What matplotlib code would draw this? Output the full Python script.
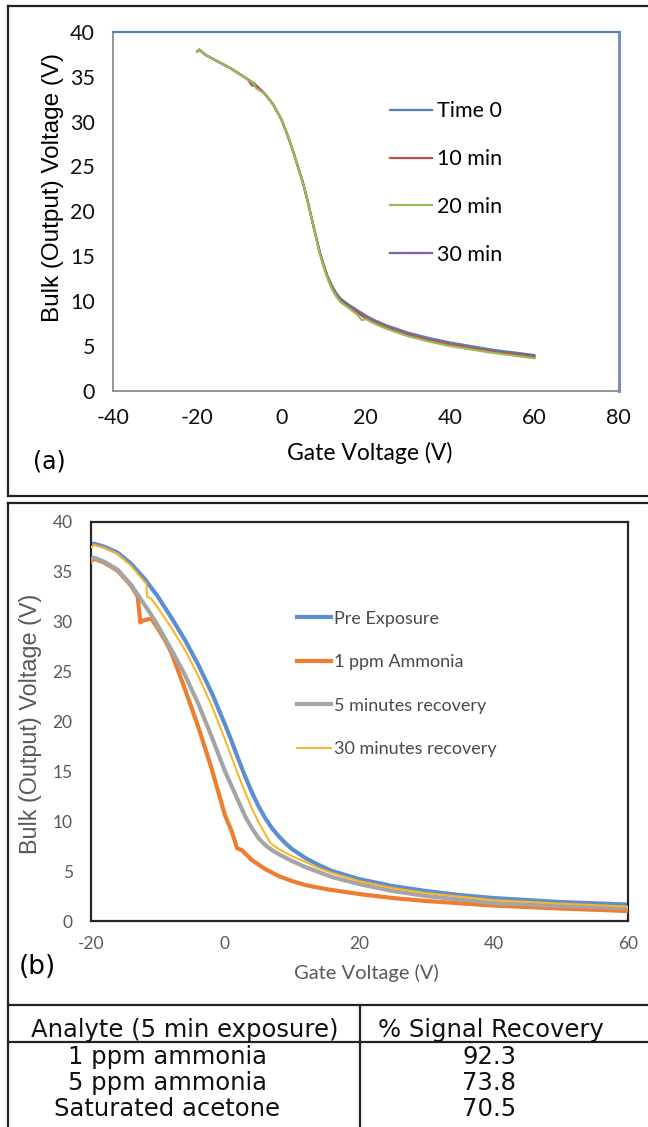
import matplotlib.pyplot as plt
from matplotlib.lines import Line2D

plt.rcParams["axes.unicode_minus"] = False

# (a) output voltage vs gate voltage, repeated sweeps
gate_a = [-20, -19.5, -18, -16, -14, -12, -10, -8, -7, -6, -4, -2, 0, 1, 2, 3, 4, 5, 6, 7,
          8, 9, 10, 11, 12, 13, 14, 16, 18, 19, 20, 22, 25, 30, 35, 40, 50, 60]
time0 = [37.8, 38.0, 37.4, 36.9, 36.4, 35.9, 35.3, 34.7, 34.4, 34.0, 33.1, 31.9, 30.2, 29.0, 27.7, 26.3, 24.8, 23.3, 21.5, 19.5,
         17.5, 15.6, 14.0, 12.7, 11.7, 10.9, 10.3, 9.6, 9.0, 8.7, 8.4, 7.9, 7.3, 6.5, 5.9, 5.4, 4.6, 4.0]
min10 = [37.8, 38.0, 37.4, 36.9, 36.4, 35.9, 35.3, 34.7, 34.0, 34.0, 33.1, 31.9, 30.2, 29.0, 27.7, 26.3, 24.8, 23.3, 21.5, 19.5,
         17.5, 15.6, 14.0, 12.6, 11.5, 10.7, 10.1, 9.4, 8.8, 8.5, 8.2, 7.7, 7.1, 6.3, 5.7, 5.2, 4.4, 3.85]
min20 = [37.8, 38.0, 37.4, 36.9, 36.4, 35.9, 35.3, 34.7, 34.4, 33.7, 33.1, 31.9, 30.2, 29.0, 27.7, 26.3, 24.8, 23.3, 21.5, 19.5,
         17.4, 15.4, 13.8, 12.4, 11.3, 10.5, 9.9, 9.2, 8.5, 7.9, 8.0, 7.5, 6.9, 6.1, 5.5, 5.0, 4.25, 3.65]
min30 = [37.8, 38.0, 37.4, 36.9, 36.4, 35.9, 35.3, 34.7, 34.4, 34.0, 33.1, 31.9, 30.2, 29.0, 27.7, 26.3, 24.8, 23.3, 21.5, 19.5,
         17.5, 15.5, 13.9, 12.5, 11.4, 10.6, 10.0, 9.3, 8.7, 8.4, 8.1, 7.6, 7.0, 6.2, 5.6, 5.1, 4.35, 3.75]

# (b) ammonia exposure and recovery
pre_x = [-20, -19.5, -18, -16, -14, -12, -10, -8, -6, -4, -2, 0, 1, 2, 3, 4, 5, 6, 7, 8, 9, 10,
         12, 14, 16, 18, 20, 25, 30, 35, 40, 50, 60]
pre_y = [37.6, 37.8, 37.5, 36.9, 35.8, 34.3, 32.5, 30.4, 28.2, 25.7, 22.9, 19.7, 18.0, 16.2, 14.5, 12.9, 11.5, 10.3, 9.3, 8.5, 7.8, 7.2,
         6.3, 5.6, 5.0, 4.6, 4.2, 3.5, 3.0, 2.6, 2.3, 1.9, 1.65]
nh3_x = [-20, -19.5, -18, -16, -14, -13, -12.8, -12.6, -12.2, -11, -10, -9, -8, -6, -4, -2, 0, 1, 1.8, 2.5,
         4, 6, 8, 10, 12, 15, 20, 25, 30, 40, 50, 60]
nh3_y = [36.0, 36.3, 35.9, 35.1, 33.6, 32.5, 31.2, 29.9, 30.1, 30.3, 29.3, 28.2, 26.9, 23.3, 19.5, 15.3, 10.6, 9.0, 7.3, 7.1,
         6.1, 5.2, 4.5, 4.0, 3.6, 3.2, 2.7, 2.3, 2.0, 1.55, 1.25, 1.0]
rec5_x = [-20, -19.5, -18, -16, -14, -12, -11, -10, -8, -6, -4, -2, 0, 1, 2, 3, 4, 5, 6, 7, 8,
          10, 12, 14, 16, 20, 25, 30, 40, 50, 60]
rec5_y = [36.2, 36.4, 36.0, 35.2, 33.7, 31.7, 30.7, 29.6, 27.2, 24.7, 21.8, 18.5, 15.0, 13.5, 12.0, 10.5, 9.3, 8.3, 7.6, 7.1, 6.7,
          6.0, 5.4, 4.9, 4.4, 3.7, 3.0, 2.5, 1.8, 1.5, 1.3]
rec30_x = [-20, -19.5, -18, -16, -14, -12, -11.7, -11.6, -11, -10, -8, -6, -4, -2, 0, 1, 2, 3, 4, 5, 6, 6.8, 7.2, 8,
           10, 12, 14, 16, 20, 25, 30, 40, 50, 60]
rec30_y = [37.4, 37.7, 37.4, 36.8, 35.6, 34.0, 33.8, 32.5, 32.3, 31.4, 29.4, 27.2, 24.6, 21.6, 18.2, 16.4, 14.6, 12.9, 11.3, 9.9, 8.7, 7.8, 7.6, 7.2,
           6.5, 5.9, 5.3, 4.8, 4.0, 3.3, 2.8, 2.1, 1.75, 1.45]

# recovery table
analytes = ["1 ppm ammonia", "5 ppm ammonia", "Saturated acetone"]
recovery = ["92.3", "73.8", "70.5"]

W, H = 648, 1127
fig = plt.figure(figsize=(W / 100, H / 100), dpi=100)
fig.patch.set_facecolor("white")


def rule(x0, y0, x1, y1, lw=1.6):
    fig.add_artist(Line2D([x0 / W, x1 / W], [1 - y0 / H, 1 - y1 / H],
                          transform=fig.transFigure, color="#222222", lw=lw))


def place(left, top, right, bottom):
    return fig.add_axes([left / W, 1 - bottom / H, (right - left) / W, (bottom - top) / H])


# ---- panel (a) ----
ax = place(113, 31.7, 618.7, 391)
ax.plot(gate_a, min30, color="#8064A2", lw=1.6, label="30 min", zorder=1)
ax.plot(gate_a, time0, color="#4F81BD", lw=1.6, label="Time 0", zorder=2)
ax.plot(gate_a, min10, color="#C0504D", lw=1.6, label="10 min", zorder=3)
ax.plot(gate_a, min20, color="#9BBB59", lw=1.6, label="20 min", zorder=4)
ax.set_xlim(-40, 80)
ax.set_ylim(0, 40)
ax.set_xticks(range(-40, 81, 20))
ax.set_yticks(range(0, 41, 5))
ax.tick_params(length=0, labelsize=15.5, labelcolor="#111111")
ax.tick_params(axis="y", pad=13)
ax.tick_params(axis="x", pad=12)
for lab in ax.get_xticklabels() + ax.get_yticklabels():
    lab.set_family("Lato")
for side in ("left", "bottom"):
    ax.spines[side].set_color("#8c8c8c")
    ax.spines[side].set_linewidth(1.3)
ax.spines["top"].set_color("#5b7fc2")
ax.spines["top"].set_linewidth(1.6)
ax.spines["right"].set_color("#7b8fc6")
ax.spines["right"].set_linewidth(2.2)
ax.set_xlabel("Gate Voltage (V)", family="Lato", fontsize=16.5, va="center")
ax.xaxis.set_label_coords(0.508, -0.1726)
ax.set_ylabel("Bulk (Output) Voltage (V)", family="Liberation Sans", fontsize=17.5, va="center")
ax.yaxis.set_label_coords(-0.118, 0.5664)
h, l = ax.get_legend_handles_labels()
order = [1, 2, 3, 0]
ax.legend([h[i] for i in order], [l[i] for i in order], loc="upper left",
          bbox_to_anchor=(0.5478, 0.806), frameon=False, borderpad=0, borderaxespad=0,
          handlelength=1.95, handletextpad=0.25, labelspacing=1.29,
          prop={"family": "Lato", "size": 15.5})
fig.text(49.5 / W, 1 - 462 / H, "(a)", family="DejaVu Sans", fontsize=17, ha="center", va="center")

# ---- panel (b) ----
gray = "#595959"
bx = place(90.7, 521.7, 627.7, 921)
bx.plot(pre_x, pre_y, color="#5B8FD0", lw=3.0, label="Pre Exposure", zorder=2)
bx.plot(nh3_x, nh3_y, color="#ED7D31", lw=3.0, label="1 ppm Ammonia", zorder=3)
bx.plot(rec5_x, rec5_y, color="#A5A5A5", lw=3.0, label="5 minutes recovery", zorder=4)
bx.plot(rec30_x, rec30_y, color="#FFB21E", lw=1.4, label="30 minutes recovery", zorder=5)
bx.set_xlim(-20, 60)
bx.set_ylim(0, 40)
bx.set_xticks(range(-20, 61, 20))
bx.set_yticks(range(0, 41, 5))
bx.tick_params(length=0, labelsize=12.5, labelcolor=gray)
bx.tick_params(axis="y", pad=13)
bx.tick_params(axis="x", pad=11)
for lab in bx.get_xticklabels() + bx.get_yticklabels():
    lab.set_family("Lato")
for sp in bx.spines.values():
    sp.set_color("#262626")
    sp.set_linewidth(1.6)
bx.set_xlabel("Gate Voltage (V)", family="Lato", fontsize=14.5, color=gray, va="center")
bx.xaxis.set_label_coords(0.5127, -0.1302)
bx.set_ylabel("Bulk (Output) Voltage (V)", family="Liberation Sans", fontsize=16.8, color=gray, va="center")
bx.yaxis.set_label_coords(-0.113, 0.4934)
bx.legend(loc="upper left", bbox_to_anchor=(0.385, 0.777), frameon=False, borderpad=0,
          borderaxespad=0, handlelength=1.85, handletextpad=0.15, labelspacing=1.52,
          labelcolor="#4a4a4a", prop={"family": "Lato", "size": 13})
fig.text(37.5 / W, 1 - 967 / H, "(b)", family="DejaVu Sans", fontsize=19, ha="center", va="center")

# ---- panel borders and table ----
rule(8, 6, 660, 6)
rule(8, 6, 8, 496)
rule(8, 496, 660, 496)
rule(8, 503, 660, 503)
rule(8, 503, 8, 1130)
rule(8, 1005, 660, 1005)
rule(8, 1042, 660, 1042)
rule(360, 1005, 360, 1130)

tfont = dict(family="DejaVu Sans", fontsize=17.5, color="#111111", va="center", ha="center")
fig.text(185 / W, 1 - 1030 / H, "Analyte (5 min exposure)", **tfont)
fig.text(491 / W, 1 - 1030 / H, "% Signal Recovery", **tfont)
for i, (name, val) in enumerate(zip(analytes, recovery)):
    y = 1 - (1057 + 26 * i) / H
    fig.text(167 / W, y, name, **tfont)
    fig.text(489 / W, y, val, **tfont)

fig.savefig("out.png", dpi=100)
